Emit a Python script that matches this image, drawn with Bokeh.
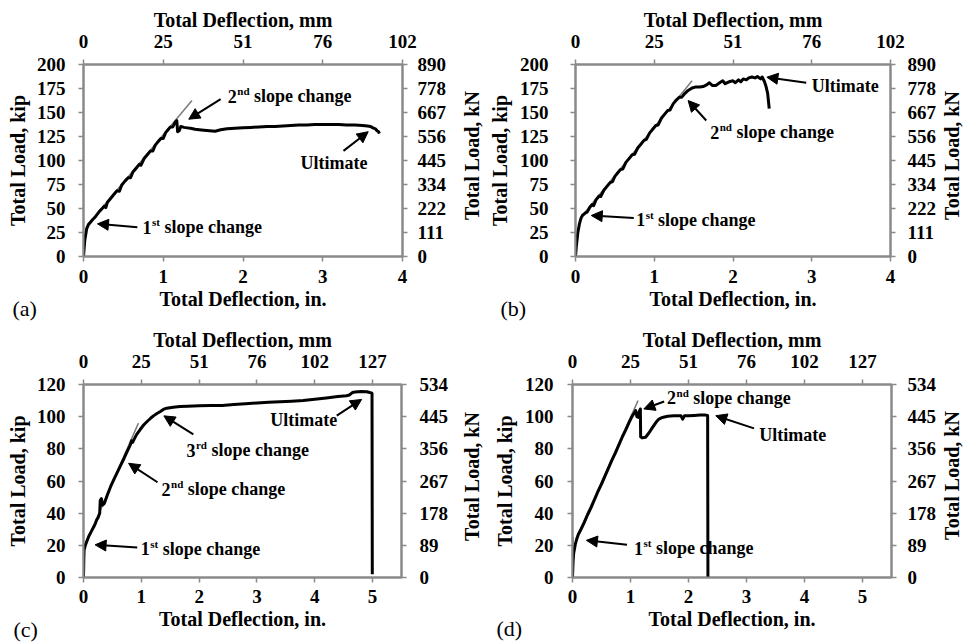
import math
from bokeh.plotting import figure
from bokeh.models import Range1d, LinearAxis, FixedTicker, Arrow, NormalHead, GridBox
from bokeh.layouts import column, row
from bokeh.core.properties import value
from bokeh.embed import file_html
from bokeh.resources import INLINE

# ---------------- data (deflection in inches, load in kip) ----------------
# Panel (a)
a_x = [0, 0.016, 0.04, 0.06, 0.09, 0.11, 0.15, 0.2, 0.24, 0.26, 0.28, 0.3, 0.34, 0.38, 0.42, 0.45,
       0.48, 0.52, 0.56, 0.59, 0.62, 0.66, 0.7, 0.72, 0.76, 0.8, 0.84, 0.87, 0.9, 0.94, 0.97, 1.0,
       1.03, 1.06, 1.09, 1.12, 1.15, 1.17, 1.18, 1.2, 1.22, 1.26, 1.3, 1.34, 1.4, 1.45, 1.51, 1.58,
       1.65, 1.72, 1.8, 1.9, 2.0, 2.1, 2.2, 2.3, 2.4, 2.5, 2.6, 2.7, 2.8, 2.9, 3.0, 3.1, 3.2, 3.3,
       3.4, 3.5, 3.56, 3.6, 3.63, 3.66, 3.68, 3.7, 3.71]
a_y = [0, 17, 29, 33, 36, 38, 41.5, 47, 50.5, 52.5, 51, 56.5, 60.5, 64.5, 68.5, 68,
       74.5, 78.5, 82, 82, 88, 92, 96, 95, 102, 106, 110, 110, 116, 120, 123, 123,
       129, 132, 135, 135, 140, 141.5, 130, 131, 135.5, 134.5, 134, 133.5, 132.5, 132, 131.5, 131,
       130.5, 132, 133, 133.5, 134, 134.5, 135, 135.5, 135.5, 136, 136.5, 137, 137, 137.5, 137.5, 137.5, 137.5, 137,
       137, 136.5, 136, 135.5, 134, 133, 131, 130, 128]
a_fit_x = [0.05, 1.36]
a_fit_y = [32.6, 162.5]

# Panel (b)
b_x = [0, 0.01, 0.03, 0.05, 0.07, 0.09, 0.12, 0.15, 0.18, 0.21, 0.23, 0.26, 0.3, 0.32, 0.36, 0.4,
       0.44, 0.47, 0.5, 0.53, 0.57, 0.6, 0.64, 0.68, 0.72, 0.75, 0.79, 0.83, 0.87, 0.9, 0.94, 0.98,
       1.02, 1.05, 1.09, 1.13, 1.17, 1.2, 1.24, 1.28, 1.32, 1.35, 1.39, 1.43, 1.48, 1.52, 1.58, 1.62, 1.67,
       1.7, 1.74, 1.78, 1.83, 1.87, 1.9, 1.95, 2.0, 2.03, 2.07, 2.1, 2.13, 2.17, 2.2, 2.24, 2.28,
       2.31, 2.35, 2.37, 2.4, 2.42, 2.44, 2.45, 2.46]
b_y = [0, 10, 25, 34, 40, 43, 45, 46.5, 51, 54, 53, 59, 63, 62.5, 69, 73,
       77, 78, 83.5, 86.5, 90.5, 91, 98, 102, 106, 106.5, 113, 117, 121, 122, 128.5, 132.5,
       136.5, 137, 144, 148, 152, 152.5, 159, 163, 166, 166, 170, 173, 175.5, 176.5, 176.5, 177, 179,
       181, 178, 178, 181, 183, 180, 182, 183, 181, 184, 182, 185, 184, 186, 187, 186,
       187.5, 185, 187, 182, 177, 170, 162, 154]
b_fit_x = [0.07, 1.48]
b_fit_y = [41, 183]

# Panel (c)
c_x = [0, 0.006, 0.01, 0.034, 0.09, 0.14, 0.18, 0.21, 0.23, 0.25, 0.28, 0.29, 0.31, 0.33, 0.36, 0.38,
       0.42, 0.47, 0.52, 0.58, 0.64, 0.7, 0.75, 0.81, 0.83, 0.85, 0.87, 0.92, 0.98, 1.04, 1.1, 1.16,
       1.21, 1.27, 1.33, 1.38, 1.44, 1.55, 1.67, 1.8, 2.0, 2.2, 2.4, 2.6, 2.8, 3.0, 3.2, 3.4,
       3.6, 3.8, 4.0, 4.2, 4.4, 4.55, 4.6, 4.65, 4.7, 4.8, 4.9, 4.95, 4.98, 4.99, 4.995]
c_y = [0, 12, 17, 20.3, 25.5, 29, 31.7, 34, 36, 37, 40, 48, 49, 45, 46, 48,
       52, 56.6, 60.5, 65, 69.5, 74, 78, 82.5, 85, 84, 85.6, 89, 92, 94.8, 97, 99,
       100.5, 102, 103.2, 104.5, 105.3, 105.8, 106.3, 106.5, 106.8, 107, 107, 107.5, 108, 108.5, 109, 109.3,
       109.6, 110, 110.8, 111.6, 112.5, 113, 113.5, 115, 115.3, 115.7, 115.5, 115, 114.8, 114.5, 2]
c_fit_x = [0.017, 0.95]
c_fit_y = [19.3, 96]

# Panel (d)
d_x = [0, 0.01, 0.02, 0.047, 0.07, 0.1, 0.14, 0.2, 0.26, 0.32, 0.38, 0.44, 0.5, 0.56, 0.62, 0.68,
       0.74, 0.8, 0.86, 0.92, 0.97, 1.01, 1.04, 1.07, 1.09, 1.11, 1.13, 1.15, 1.17, 1.175, 1.2, 1.26,
       1.32, 1.38, 1.44, 1.49, 1.55, 1.64, 1.75, 1.87, 1.9, 1.93, 2.0, 2.1, 2.2, 2.28, 2.33, 2.335]
d_y = [0, 10, 15, 20.4, 23.5, 26.7, 29.5, 34, 39, 43.5, 48.5, 53.5, 58, 63, 68, 73,
       77.5, 82.5, 87.5, 92, 96, 99, 101, 102.5, 103.8, 100, 99.6, 103, 104.8, 87.5, 86.8, 87.2,
       90, 93.3, 96.5, 98.5, 99.5, 100.3, 100.5, 100.6, 98.5, 100.5, 100.6, 100.8, 101, 101, 100.8, 0]
d_fit_x = [0.06, 1.13]
d_fit_y = [24, 110]
d_fit0_x = [0.0, 0.012]
d_fit0_y = [0, 25]

# Axis tick values and labels
in_ticks_ab = [0, 1, 2, 3, 4]
mm_labels_ab = ["0", "25", "51", "76", "102"]
in_ticks_cd = [0, 1, 2, 3, 4, 5]
mm_labels_cd = ["0", "25", "51", "76", "102", "127"]
kip_ticks_ab = [0, 25, 50, 75, 100, 125, 150, 175, 200]
kn_labels_ab = ["0", "111", "222", "334", "445", "556", "667", "778", "890"]
kip_ticks_cd = [0, 20, 40, 60, 80, 100, 120]
kn_labels_cd = ["0", "89", "178", "267", "356", "445", "534"]

# Annotations: text anchor, numeral, superscript, rest, arrow tail, arrow head
a_note_main = ["1", "2", "Ultimate"]
a_note_sup = ["st", "nd", ""]
a_note_rest = ["slope change", "slope change", ""]
a_note_x = [0.74, 1.81, 2.72]
a_note_y = [30.5, 166.7, 97]
a_tail_x = [0.675, 1.72, 3.26]
a_tail_y = [30.5, 164, 110]
a_head_x = [0.175, 1.32, 3.57]
a_head_y = [34, 143, 130]

b_note_main = ["1", "2", "Ultimate"]
b_note_sup = ["st", "nd", ""]
b_note_rest = ["slope change", "slope change", ""]
b_note_x = [0.77, 1.71, 3.0]
b_note_y = [38.5, 129.5, 178]
b_tail_x = [0.74, 1.66, 2.93]
b_tail_y = [40, 141.7, 181]
b_head_x = [0.2, 1.43, 2.43]
b_head_y = [42.7, 162.5, 186.8]

c_note_main = ["1", "2", "3", "Ultimate"]
c_note_sup = ["st", "nd", "rd", ""]
c_note_rest = ["slope change", "slope change", "slope change", ""]
c_note_x = [0.99, 1.35, 1.78, 3.23]
c_note_y = [17.9, 55, 79.2, 98.2]
c_tail_x = [0.93, 1.28, 1.9, 4.38]
c_tail_y = [18.7, 59.2, 89, 100.7]
c_head_x = [0.2, 0.78, 1.39, 4.81]
c_head_y = [20.3, 71, 100.5, 110.7]

d_note_main = ["1", "2", "Ultimate"]
d_note_sup = ["st", "nd", ""]
d_note_rest = ["slope change", "slope change", ""]
d_note_x = [1.06, 1.63, 3.22]
d_note_y = [18.3, 111.7, 88.75]
d_tail_x = [0.94, 1.58, 3.13]
d_tail_y = [20.4, 109.4, 92.7]
d_head_x = [0.24, 1.23, 2.47]
d_head_y = [23.1, 104.8, 100.6]

panel_tags = ["(a)", "(b)", "(c)", "(d)"]
right_titles = ["Total Load, kN"] * 4

# ---------------- styling ----------------
FONT = "Liberation Serif"
GRAY = "#8a8a8a"
FIT = "#7a7a7a"
CW = {"0": .5, "1": .5, "2": .5, "3": .5, "s": .389, "t": .333, "n": .556, "d": .556, "r": .444}
PAGE_W, PAGE_H = 964, 642
TAG_PX = [12, 500, 13, 496]            # screen positions (px, y downwards) of the panel tags
TAG_PY = [307.5, 308, 629, 627.5]
KN_PX = [471, 951, 471, 951]           # screen positions of the rotated right-axis titles
KN_PY = [155, 155, 476, 475]


def twidth(s, size):
    return sum(CW.get(ch, .5) for ch in s) * size


def style_axis(ax, std, lstd, tick_out=5):
    ax.axis_line_color = GRAY
    ax.axis_line_width = 2
    ax.major_tick_line_color = GRAY
    ax.major_tick_line_width = 1.5
    ax.major_tick_out = tick_out
    ax.major_tick_in = 0
    ax.minor_tick_line_color = None
    ax.major_label_text_font = FONT
    ax.major_label_text_font_style = "bold"
    ax.major_label_text_font_size = "19px"
    ax.major_label_text_color = "black"
    ax.axis_label_text_font = FONT
    ax.axis_label_text_font_style = "bold"
    ax.axis_label_text_font_size = "20px"
    ax.axis_label_text_color = "black"
    ax.major_label_standoff = std
    ax.axis_label_standoff = lstd


def make_panel(xs, ys, fits, xmax, ymax, in_ticks, mm_labels, kip_ticks, kn_labels,
               n_main, n_sup, n_rest, n_x, n_y, t_x, t_y, h_x, h_y,
               width, height, bl, br, bt, bb, s_bottom, s_top, s_left, s_right):
    p = figure(width=width, height=height, x_range=Range1d(0, xmax), y_range=Range1d(0, ymax),
               output_backend="svg", toolbar_location=None,
               min_border_left=bl, min_border_right=br, min_border_top=bt, min_border_bottom=bb,
               background_fill_color="white", border_fill_color="white")
    p.grid.visible = False
    p.outline_line_color = GRAY
    p.outline_line_width = 2

    p.xaxis.ticker = FixedTicker(ticks=in_ticks)
    p.xaxis.axis_label = "Total Deflection, in."
    p.yaxis.ticker = FixedTicker(ticks=kip_ticks)
    p.yaxis.axis_label = "Total Load, kip"
    for ax in p.xaxis:
        style_axis(ax, *s_bottom)
    for ax in p.yaxis:
        style_axis(ax, *s_left)

    top = LinearAxis(ticker=FixedTicker(ticks=in_ticks),
                     major_label_overrides={t: l for t, l in zip(in_ticks, mm_labels)},
                     axis_label="Total Deflection, mm")
    style_axis(top, *s_top)
    p.add_layout(top, "above")

    # right (kN) axis; its rotated title is drawn on the overlay so it reads bottom-to-top
    right = LinearAxis(ticker=FixedTicker(ticks=kip_ticks),
                       major_label_overrides={t: l for t, l in zip(kip_ticks, kn_labels)})
    style_axis(right, *s_right)
    p.add_layout(right, "right")

    for fx, fy in fits:
        p.line(fx, fy, line_color=FIT, line_width=1.5)
    p.line(xs, ys, line_color="black", line_width=3, line_join="round")

    for i in range(len(n_main)):
        p.add_layout(Arrow(end=NormalHead(size=11, fill_color="black", line_color="black"),
                           x_start=t_x[i], y_start=t_y[i], x_end=h_x[i], y_end=h_y[i],
                           line_color="black", line_width=2))
        common = dict(text_font=value(FONT), text_font_style="bold", text_color="black",
                      text_baseline="middle", text_align="left")
        p.text(x=[n_x[i]], y=[n_y[i]], text=[n_main[i]], text_font_size="18px", **common)
        if n_sup[i]:
            w0 = twidth(n_main[i], 18)
            p.text(x=[n_x[i]], y=[n_y[i]], text=[n_sup[i]], text_font_size="11px",
                   x_offset=w0 + 0.5, y_offset=-5, **common)
            w1 = twidth(n_sup[i], 11)
            p.text(x=[n_x[i]], y=[n_y[i]], text=[n_rest[i]], text_font_size="18px",
                   x_offset=w0 + w1 + 5, **common)
    return p


pa = make_panel(a_x, a_y, [(a_fit_x, a_fit_y)], 4, 200, in_ticks_ab, mm_labels_ab, kip_ticks_ab, kn_labels_ab,
                a_note_main, a_note_sup, a_note_rest, a_note_x, a_note_y, a_tail_x, a_tail_y, a_head_x, a_head_y,
                485, 320, 83, 83, 64, 64,
                (8, 2), (12, 1), (13, 5), (10, 11))
pb = make_panel(b_x, b_y, [(b_fit_x, b_fit_y)], 4, 200, in_ticks_ab, mm_labels_ab, kip_ticks_ab, kn_labels_ab,
                b_note_main, b_note_sup, b_note_rest, b_note_x, b_note_y, b_tail_x, b_tail_y, b_head_x, b_head_y,
                479, 320, 87, 74, 64, 64,
                (8, 2), (12, 1), (22, 6), (12, 6))
pc = make_panel(c_x, c_y, [(c_fit_x, c_fit_y)], 5.5, 120, in_ticks_cd, mm_labels_cd, kip_ticks_cd, kn_labels_cd,
                c_note_main, c_note_sup, c_note_rest, c_note_x, c_note_y, c_tail_x, c_tail_y, c_head_x, c_head_y,
                485, 322, 83, 84, 64, 65,
                (7, 2), (12, 1), (13, 5), (13, 9))
pd_ = make_panel(d_x, d_y, [(d_fit_x, d_fit_y), (d_fit0_x, d_fit0_y)], 5.5, 120, in_ticks_cd, mm_labels_cd,
                 kip_ticks_cd, kn_labels_cd,
                 d_note_main, d_note_sup, d_note_rest, d_note_x, d_note_y, d_tail_x, d_tail_y, d_head_x, d_head_y,
                 479, 322, 87, 73, 64, 65,
                 (7, 2), (12, 1), (14, 6), (11, 6))

# transparent overlay (pixel coordinates, y downwards) with the panel tags and right-axis titles
ov = figure(width=PAGE_W, height=PAGE_H, x_range=Range1d(0, PAGE_W), y_range=Range1d(PAGE_H, 0),
            x_axis_type=None, y_axis_type=None,
            output_backend="svg", toolbar_location=None,
            min_border=0, min_border_left=0, min_border_right=0, min_border_top=0, min_border_bottom=0,
            background_fill_color=None, border_fill_color=None, outline_line_color=None)
ov.grid.visible = False
ov.text(x=TAG_PX, y=TAG_PY, text=panel_tags, text_font=value(FONT), text_font_size="22px",
        text_color="black", text_baseline="middle", text_align="left")
ov.text(x=KN_PX, y=KN_PY, text=right_titles, angle=math.pi / 2, text_font=value(FONT),
        text_font_style="bold", text_font_size="20px", text_color="black",
        text_baseline="middle", text_align="center")

panels = column(row(pa, pb), row(pc, pd_))
layout = GridBox(children=[(panels, 0, 0), (ov, 0, 0)])
open("out.html", "w").write(file_html(layout, INLINE))
